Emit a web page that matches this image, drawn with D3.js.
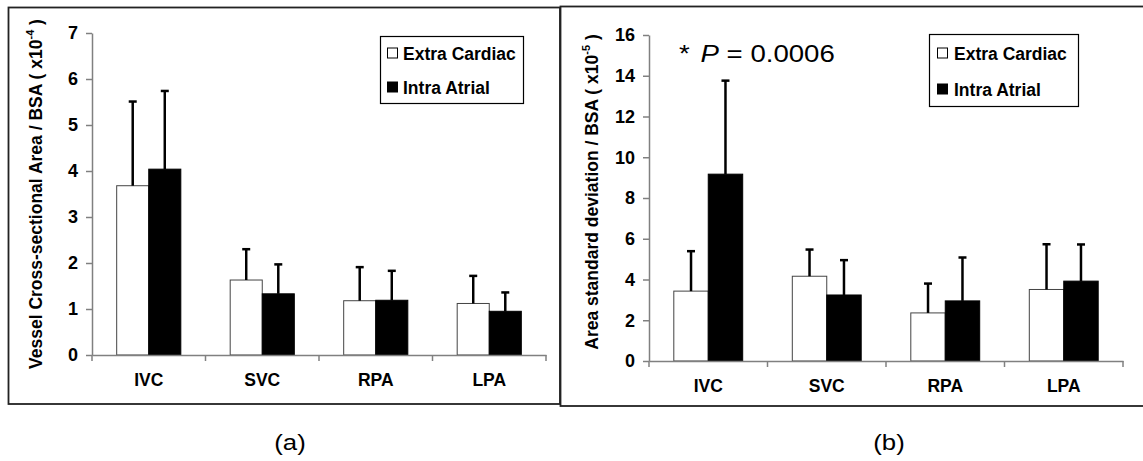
<!DOCTYPE html>
<html><head><meta charset="utf-8">
<script src="https://cdn.jsdelivr.net/npm/d3@7"></script>
<style>
body{margin:0;background:#fff}
svg{display:block}
text{font-family:"Liberation Sans",Arial,Helvetica,sans-serif;fill:#000}
</style>
</head><body>
<svg id="c" width="1143" height="461"></svg>
<script>
// ---- data ----
const categories = ["IVC", "SVC", "RPA", "LPA"];
const seriesNames = ["Extra Cardiac", "Intra Atrial"];
// panel (a): vessel cross-sectional area / BSA (x10^-4)
const areaExtra = [3.68, 1.63, 1.18, 1.12];
const areaExtraErr = [1.83, 0.67, 0.73, 0.60];
const areaIntra = [4.04, 1.33, 1.19, 0.95];
const areaIntraErr = [1.70, 0.64, 0.64, 0.41];
// panel (b): area standard deviation / BSA (x10^-5)
const sdExtra = [3.43, 4.16, 2.36, 3.51];
const sdExtraErr = [1.96, 1.31, 1.44, 2.22];
const sdIntra = [9.17, 3.24, 2.95, 3.92];
const sdIntraErr = [4.59, 1.71, 2.13, 1.80];
const ticksA = [0, 1, 2, 3, 4, 5, 6, 7];
const ticksB = [0, 2, 4, 6, 8, 10, 12, 14, 16];
const panelLabels = ["(a)", "(b)"];
const titleA = ["Vessel Cross-sectional Area / BSA ( x10", "-4", " )"];
const titleB = ["Area standard deviation / BSA ( x10", "-5", " )"];
const annotation = ["*", "P", " = 0.0006"];

const svg = d3.select("#c");
const fills = d3.scaleOrdinal().domain(seriesNames).range(["#ffffff", "#000000"]);

// frames
svg.append("rect").attr("x", 8.5).attr("y", 7.5).attr("width", 551.5).attr("height", 396.5)
  .attr("fill", "none").attr("stroke", "#222").attr("stroke-width", 1.8);
svg.append("rect").attr("x", 560.5).attr("y", 6.5).attr("width", 590).attr("height", 399.5)
  .attr("fill", "none").attr("stroke", "#222").attr("stroke-width", 1.8);

function drawPanel(o) {
  const g = svg.append("g");
  const x0 = d3.scaleBand().domain(categories).range(o.xr);
  const x1 = d3.scaleBand().domain(seriesNames).range([0, x0.bandwidth()]).paddingOuter(o.pad);
  const y = d3.scaleLinear().domain([0, d3.max(o.ticks)]).range(o.yr);

  const rows = categories.map((c, i) => ({
    c, vals: seriesNames.map((s, k) => ({ s, v: o.vals[k][i], e: o.errs[k][i] }))
  }));

  const grp = g.selectAll("g.cat").data(rows).join("g")
    .attr("transform", d => `translate(${x0(d.c)},0)`);

  grp.selectAll("rect").data(d => d.vals).join("rect")
    .attr("x", d => x1(d.s))
    .attr("y", d => y(d.v))
    .attr("width", x1.bandwidth())
    .attr("height", d => y(0) - y(d.v))
    .attr("fill", d => fills(d.s))
    .attr("stroke", d => d.s === seriesNames[0] ? "#444" : "#000")
    .attr("stroke-width", 1);

  // error bars (upper only)
  grp.selectAll("line.err").data(d => d.vals).join("line").attr("class", "err")
    .attr("x1", d => x1(d.s) + x1.bandwidth() / 2)
    .attr("x2", d => x1(d.s) + x1.bandwidth() / 2)
    .attr("y1", d => y(d.v))
    .attr("y2", d => y(d.v + d.e))
    .attr("stroke", "#000").attr("stroke-width", 2.5);
  grp.selectAll("line.cap").data(d => d.vals).join("line").attr("class", "cap")
    .attr("x1", d => x1(d.s) + x1.bandwidth() / 2 - 4)
    .attr("x2", d => x1(d.s) + x1.bandwidth() / 2 + 4)
    .attr("y1", d => y(d.v + d.e))
    .attr("y2", d => y(d.v + d.e))
    .attr("stroke", "#000").attr("stroke-width", 2.5);

  // y axis
  const ya = g.append("g").attr("transform", `translate(${o.xr[0]},0)`)
    .call(d3.axisLeft(y).tickValues(o.ticks).tickSize(6).tickSizeOuter(0).tickPadding(8).tickFormat(d3.format("d")));
  ya.select(".domain").attr("stroke", "#808080").attr("stroke-width", 1.5);
  ya.selectAll(".tick line").attr("stroke", "#808080").attr("stroke-width", 1.5);
  ya.selectAll(".tick text").attr("font-size", 18).attr("font-weight", "bold")
    .attr("font-family", "Liberation Sans, Arial, sans-serif").attr("fill", "#000");

  // x axis
  const xa = g.append("g").attr("transform", `translate(0,${y(0)})`)
    .call(d3.axisBottom(x0).tickSize(0).tickSizeOuter(0).tickPadding(19));
  xa.select(".domain").attr("stroke", "#808080").attr("stroke-width", 1.5);
  xa.selectAll(".tick text").attr("font-size", 17.5).attr("font-weight", "bold")
    .attr("font-family", "Liberation Sans, Arial, sans-serif").attr("fill", "#000");
  const bounds = categories.map(c => x0(c)).concat([x0.range()[1]]);
  xa.selectAll("line.bt").data(bounds).join("line").attr("class", "bt")
    .attr("x1", d => d).attr("x2", d => d).attr("y1", 0).attr("y2", 6)
    .attr("stroke", "#808080").attr("stroke-width", 1.5);

  // axis title
  const t = g.append("text")
    .attr("transform", `translate(${o.titleX},${o.titleY}) rotate(-90)`)
    .attr("text-anchor", "middle").attr("font-size", 17.5).attr("font-weight", "bold");
  t.append("tspan").text(o.title[0]);
  t.append("tspan").text(o.title[1]).attr("font-size", 11).attr("dy", -8);
  t.append("tspan").text(o.title[2]).attr("dy", 8);

  // legend
  const L = o.legend;
  g.append("rect").attr("x", L.x + 0.5).attr("y", L.y + 0.5).attr("width", L.w).attr("height", L.h)
    .attr("fill", "#fff").attr("stroke", "#000").attr("stroke-width", 1.2);
  const li = g.selectAll("g.leg").data(seriesNames).join("g")
    .attr("transform", (d, i) => `translate(${L.x + L.mx},${L.y + L.r0 + i * L.dr})`);
  li.append("rect").attr("x", 0.5).attr("y", -5).attr("width", 10).attr("height", 10)
    .attr("fill", d => fills(d)).attr("stroke", "#000").attr("stroke-width", 1);
  li.append("text").attr("x", L.tx).attr("y", 6.5).attr("font-size", 17.5).attr("font-weight", "bold").text(d => d);

  // panel label
  svg.append("text").attr("transform", `translate(${o.labelX},450) scale(1.12,1)`)
    .attr("text-anchor", "middle").attr("font-size", 23).text(o.label);
  return { x0, y };
}

drawPanel({
  xr: [92, 546], yr: [355, 33], pad: 0.77, ticks: ticksA,
  vals: [areaExtra, areaIntra], errs: [areaExtraErr, areaIntraErr],
  title: titleA, titleX: 42, titleY: 194,
  legend: { x: 380, y: 36, w: 143, h: 67, mx: 7, r0: 17, dr: 34, tx: 16 },
  label: panelLabels[0], labelX: 290
});

drawPanel({
  xr: [649, 1123], yr: [361, 35], pad: 0.72, ticks: ticksB,
  vals: [sdExtra, sdIntra], errs: [sdExtraErr, sdIntraErr],
  title: titleB, titleX: 598, titleY: 192,
  legend: { x: 929, y: 34, w: 149, h: 72, mx: 8, r0: 19, dr: 36, tx: 17 },
  label: panelLabels[1], labelX: 889
});

// significance annotation
const ann = svg.append("text").attr("transform", "translate(679,62) scale(1.2,1)").attr("font-size", 23);
ann.append("tspan").text(annotation[0]);
ann.append("tspan").attr("dx", 9).attr("font-style", "italic").text(annotation[1]);
ann.append("tspan").text(annotation[2]);
</script>
</body></html>
